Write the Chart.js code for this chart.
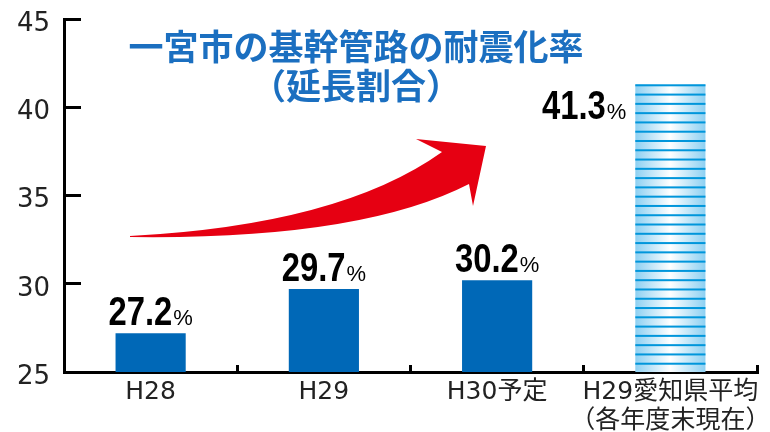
<!DOCTYPE html>
<html>
<head>
<meta charset="utf-8">
<script src="https://cdn.jsdelivr.net/npm/chart.js@4.4.0/dist/chart.umd.min.js"></script>
<style>
  body { margin: 0; background: #fff; }
  #wrap { width: 770px; height: 432px; }
</style>
</head>
<body>
<div id="wrap"><canvas id="taishin-chart"></canvas></div>
<script>
var categories = ['H28', 'H29', 'H30予定', ['H29愛知県平均', '（各年度末現在）']];
var values = [27.2, 29.7, 30.2, 41.3];
var yMin = 25;
var yMax = 45;
var yStep = 5;
var titleLines = ['一宮市の基幹管路の耐震化率', '（延長割合）'];

var blue = '#0068b7';

// title + red arrow (decoration, drawn over the plot)
var decoPlugin = {
  id: 'deco',
  afterDraw: function (chart) {
    var ctx = chart.ctx;
    ctx.save();
    ctx.fillStyle = '#1b6fc0';
    ctx.font = 'bold 35px "Noto Sans CJK JP"';
    ctx.textAlign = 'center';
    ctx.textBaseline = 'middle';
    ctx.fillText(titleLines[0], 356, 47);
    ctx.fillText(titleLines[1], 356, 86);

    ctx.fillStyle = '#e60012';
    ctx.beginPath();
    ctx.moveTo(130, 236);
    ctx.quadraticCurveTo(340, 225, 442, 152);
    ctx.lineTo(416, 139);
    ctx.lineTo(486, 146);
    ctx.lineTo(473, 206);
    ctx.lineTo(469, 184);
    ctx.quadraticCurveTo(360, 240, 130, 237);
    ctx.closePath();
    ctx.fill();
    ctx.restore();
  }
};

// striped gradient bar + value labels
var barPlugin = {
  id: 'barLabels',
  afterDatasetsDraw: function (chart) {
    var ctx = chart.ctx;
    var area = chart.chartArea;
    var meta = chart.getDatasetMeta(0);
    meta.data.forEach(function (bar, i) {
      var left = bar.x - bar.width / 2;
      var right = bar.x + bar.width / 2;
      ctx.save();
      if (i == values.length - 1) {
        var bottom = Math.min(bar.base, area.bottom);
        var h = bottom - bar.y;
        var g = ctx.createLinearGradient(left, 0, right, 0);
        g.addColorStop(0, '#8dd0f2');
        g.addColorStop(0.5, '#ffffff');
        g.addColorStop(1, '#8dd0f2');
        ctx.fillStyle = g;
        ctx.fillRect(left, bar.y, bar.width, h);
        var n = Math.round(h / 9.3);
        ctx.fillStyle = '#0096db';
        for (var k = 0; k < n; k++) {
          ctx.fillRect(left, bar.y + k * h / n, bar.width, 2);
        }
      }

      var num = values[i].toFixed(1);
      ctx.font = 'bold 40px "Liberation Sans"';
      var sx = 0.82;
      var numW = ctx.measureText(num).width * sx;
      ctx.font = '22px "Liberation Sans"';
      var pctW = ctx.measureText('%').width;
      var total = numW + 1 + pctW;
      var x0, base;
      if (i == values.length - 1) {
        x0 = left - 9 - total;
        base = bar.y + 35;
      } else {
        x0 = bar.x - total / 2;
        base = bar.y - 8;
      }
      ctx.fillStyle = '#000';
      ctx.textAlign = 'left';
      ctx.textBaseline = 'alphabetic';
      ctx.fillText('%', x0 + numW + 1, base);
      ctx.translate(x0, base);
      ctx.scale(sx, 1);
      ctx.font = 'bold 40px "Liberation Sans"';
      ctx.fillText(num, 0, 0);
      ctx.restore();
    });
  }
};

new Chart(document.getElementById('taishin-chart'), {
  type: 'bar',
  data: {
    labels: categories,
    datasets: [{
      data: values,
      backgroundColor: values.map(function (v, i) { return i == values.length - 1 ? 'rgba(0,0,0,0)' : blue; }),
      categoryPercentage: 1,
      barPercentage: 0.405
    }]
  },
  options: {
    responsive: true,
    maintainAspectRatio: false,
    animation: false,
    layout: { padding: { top: 19, right: 13, bottom: 0, left: 0 } },
    plugins: {
      legend: { display: false },
      tooltip: { enabled: false }
    },
    scales: {
      x: {
        grid: {
          drawOnChartArea: false,
          tickLength: -7,
          lineWidth: 3,
          color: '#000'
        },
        border: { color: '#000', width: 3 },
        ticks: {
          color: '#222',
          padding: 13,
          maxRotation: 0,
          minRotation: 0,
          autoSkip: false,
          font: { family: '"DejaVu Sans", "Noto Sans CJK JP"', size: 25, lineHeight: 1.15 }
        },
        afterFit: function (scale) {
          scale.height = 60;
          scale.paddingLeft = 0;
          scale.paddingRight = 0;
        }
      },
      y: {
        min: yMin,
        max: yMax,
        grid: {
          drawOnChartArea: false,
          tickLength: -17,
          lineWidth: 3,
          color: '#000'
        },
        border: { color: '#000', width: 3 },
        ticks: {
          stepSize: yStep,
          color: '#222',
          padding: 31,
          labelOffset: 5,
          font: { family: '"DejaVu Sans"', size: 26 }
        },
        afterFit: function (scale) {
          scale.width = 64;
          scale.paddingTop = 0;
          scale.paddingBottom = 0;
        }
      }
    }
  },
  plugins: [barPlugin, decoPlugin]
});
</script>
</body>
</html>
